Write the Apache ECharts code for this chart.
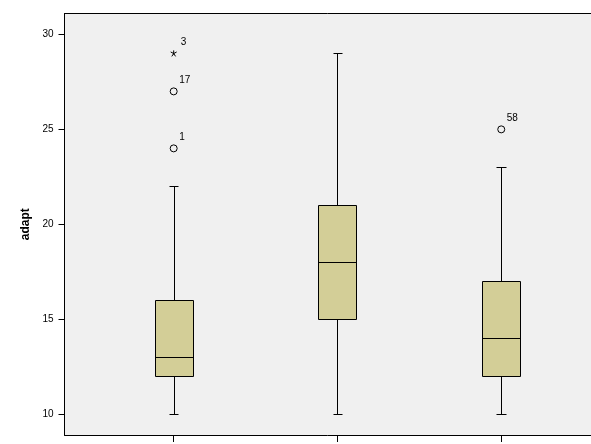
<!DOCTYPE html>
<html>
<head>
<meta charset="utf-8">
<script src="https://cdn.jsdelivr.net/npm/echarts@6/dist/echarts.min.js"></script>
<style>html,body{margin:0;padding:0;background:#fff}#c{width:591px;height:444px}</style>
</head>
<body>
<div id="c"></div>
<script>
// Group positions (category indices) and box statistics
var groups = [0, 1, 2];
var mins    = [10, 10, 10];
var q1s     = [12, 15, 12];
var medians = [13, 18, 14];
var q3s     = [16, 21, 17];
var maxs    = [22, 29, 23];
// Outliers (circles) and extremes (stars) with case labels
var outlierGroup = [0, 0, 2];
var outlierValue = [24, 27, 25];
var outlierCase  = ['1', '17', '58'];
var extremeGroup = [0];
var extremeValue = [29];
var extremeCase  = ['3'];
var yTicks = [10, 15, 20, 25, 30];

var boxData = groups.map(function (g, i) {
  return [g, mins[i], q1s[i], medians[i], q3s[i], maxs[i]];
});
var outData = outlierGroup.map(function (g, i) {
  return { value: [g, outlierValue[i]], name: outlierCase[i] };
});
var extData = extremeGroup.map(function (g, i) {
  return { value: [g, extremeValue[i]], name: extremeCase[i] };
});

var BOX_HALF = 0.116;   // in x-axis units
var CAP_HALF = 0.029;

var chart = echarts.init(document.getElementById('c'), null, { renderer: 'canvas' });
var font = 'Arial, "Liberation Sans", sans-serif';
var labelStyle = {
  show: true, formatter: '{b}', position: 'right', distance: 1.5, offset: [0, -11],
  fontFamily: font, fontSize: 10, color: '#000'
};
chart.setOption({
  animation: false,
  backgroundColor: '#ffffff',
  grid: {
    left: 64.5, top: 13.5, bottom: 9, right: 0,
    show: true, backgroundColor: '#F0F0F0', borderWidth: 0,
    containLabel: false
  },
  xAxis: [{
    type: 'value', min: -2 / 3, max: 2.548, position: 'bottom',
    axisLine: { show: true, onZero: false, lineStyle: { color: '#000', width: 1 } },
    axisTick: { show: true, length: 7, customValues: groups, lineStyle: { color: '#000' } },
    axisLabel: { show: false },
    splitLine: { show: false }
  }, {
    type: 'value', min: -2 / 3, max: 2.548, position: 'top',
    axisLine: { show: true, onZero: false, lineStyle: { color: '#000', width: 1 } },
    axisTick: { show: false },
    axisLabel: { show: false },
    splitLine: { show: false }
  }],
  yAxis: {
    type: 'value', min: 8.91, max: 31.1,
    name: 'adapt', nameLocation: 'middle', nameGap: 31, nameRotate: 90,
    nameTextStyle: { fontFamily: font, fontSize: 12, fontWeight: 'bold', color: '#000' },
    axisLine: { show: true, onZero: false, lineStyle: { color: '#000', width: 1 } },
    axisTick: { show: true, length: 6, customValues: yTicks, lineStyle: { color: '#000' } },
    axisLabel: { customValues: yTicks, margin: 11, fontFamily: font, fontSize: 10, color: '#000' },
    splitLine: { show: false }
  },
  series: [
    {
      type: 'custom',
      data: boxData,
      encode: { x: 0, y: [1, 2, 3, 4, 5] },
      renderItem: function (params, api) {
        var x = api.value(0);
        var vMin = api.value(1), vQ1 = api.value(2), vMed = api.value(3), vQ3 = api.value(4), vMax = api.value(5);
        var tl = api.coord([x - BOX_HALF, vQ3]);
        var br = api.coord([x + BOX_HALF, vQ1]);
        var mL = api.coord([x - BOX_HALF, vMed]);
        var mR = api.coord([x + BOX_HALF, vMed]);
        var cTop = api.coord([x, vMax]);
        var cBot = api.coord([x, vMin]);
        var capL = api.coord([x - CAP_HALF, vMax]);
        var capR = api.coord([x + CAP_HALF, vMax]);
        var capLb = api.coord([x - CAP_HALF, vMin]);
        var capRb = api.coord([x + CAP_HALF, vMin]);
        var ls = { stroke: '#000', lineWidth: 1, fill: null };
        var r = function (v) { return Math.round(v) + 0.5; };
        return {
          type: 'group',
          children: [
            { type: 'line', shape: { x1: r(cTop[0]), y1: r(cTop[1]), x2: r(cTop[0]), y2: r(tl[1]) }, style: ls },
            { type: 'line', shape: { x1: r(cBot[0]), y1: r(br[1]), x2: r(cBot[0]), y2: r(cBot[1]) }, style: ls },
            { type: 'line', shape: { x1: r(capL[0]), y1: r(capL[1]), x2: r(capR[0]), y2: r(capR[1]) }, style: ls },
            { type: 'line', shape: { x1: r(capLb[0]), y1: r(capLb[1]), x2: r(capRb[0]), y2: r(capRb[1]) }, style: ls },
            { type: 'rect', shape: { x: r(tl[0]), y: r(tl[1]), width: Math.round(br[0] - tl[0]), height: Math.round(br[1] - tl[1]) },
              style: { fill: '#D3CE97', stroke: '#000', lineWidth: 1 } },
            { type: 'line', shape: { x1: r(mL[0]), y1: r(mL[1]), x2: r(mR[0]), y2: r(mR[1]) }, style: ls }
          ]
        };
      }
    },
    {
      type: 'scatter',
      data: outData,
      symbol: 'circle', symbolSize: 7,
      itemStyle: { color: '#F0F0F0', borderColor: '#000', borderWidth: 1, opacity: 1 },
      label: labelStyle
    },
    {
      type: 'scatter',
      data: extData,
      symbol: 'path://M0,-1L0,0.3M-0.95,-0.5L0,0M0.95,-0.5L0,0M-0.6,0.9L0,0M0.6,0.9L0,0',
      symbolSize: 6,
      itemStyle: { color: 'none', borderColor: '#000', borderWidth: 1, opacity: 1 },
      label: labelStyle
    }
  ]
});
</script>
</body>
</html>
